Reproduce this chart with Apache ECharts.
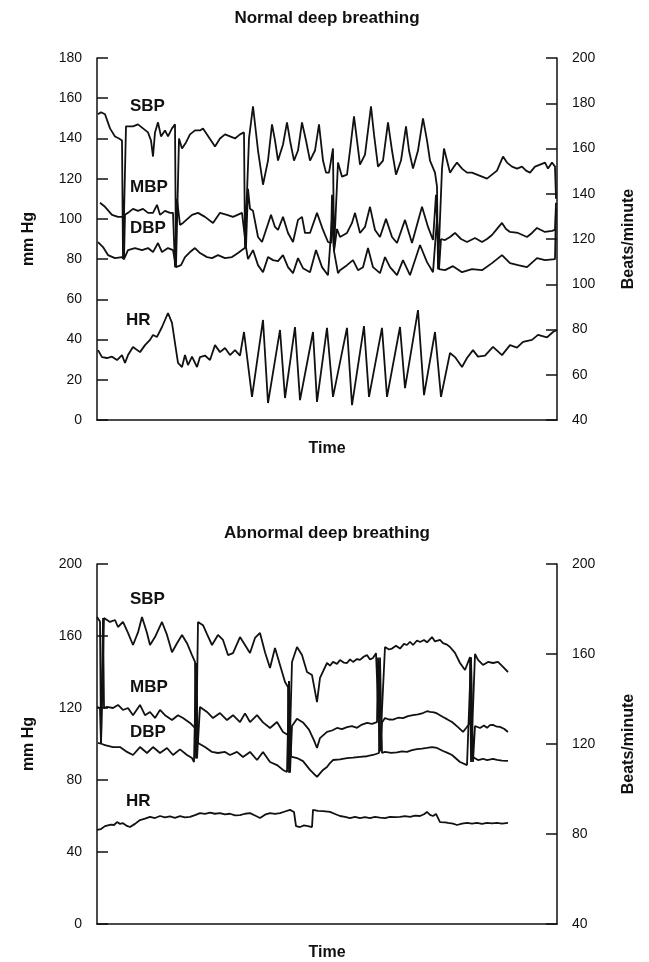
<!DOCTYPE html>
<html><head><meta charset="utf-8">
<script src="https://cdn.jsdelivr.net/npm/echarts@6/dist/echarts.min.js"></script>
<style>html,body{margin:0;padding:0;background:#fff}#c{width:649px;height:962px}</style>
</head><body><div id="c"></div>
<script>
// x = time units (0..460)
const topSBP = [[1,152],[4,153],[8,152],[13,145],[18,141],[22,140],[25,139],[26,80],[28,80],[29,146],[31,146],[36,146],[41,147],[46,145],[51,143],[54,139],[56,131],[58,143],[61,148],[64,141],[68,144],[71,141],[75,145],[78,147],[79,76],[81,76],[82,140],[85,135],[89,138],[93,142],[98,144],[103,144],[106,145],[110,142],[114,139],[118,136],[123,140],[128,142],[133,141],[138,140],[143,142],[147,143],[148,86],[150,86],[152,140],[156,156],[161,134],[166,117],[171,129],[175,147],[178,139],[181,129],[186,137],[190,148],[193,139],[197,129],[201,134],[205,148],[209,139],[213,129],[218,134],[222,147],[226,129],[229,123],[232,123],[236,135],[237,84],[239,84],[240,117],[241,128],[245,121],[250,122],[253,134],[257,151],[260,139],[263,127],[268,132],[274,156],[277,142],[281,126],[286,129],[291,148],[295,134],[299,122],[304,129],[309,146],[312,134],[316,125],[321,134],[326,150],[330,139],[333,129],[338,123],[340,116],[341,75],[343,75],[345,125],[347,135],[350,129],[353,123],[357,126],[360,128],[365,125],[370,123],[375,123],[380,122],[385,121],[390,120],[395,122],[400,124],[406,131],[410,128],[415,126],[420,125],[425,126],[429,124],[433,123],[438,126],[443,127],[448,128],[451,125],[455,128],[458,126],[459,110]];
const topMBP = [[3,108],[8,106],[15,102],[21,101],[26,101],[27,80],[28,102],[31,103],[36,105],[41,104],[46,105],[51,103],[56,103],[60,107],[63,102],[68,104],[73,103],[76,103],[78,76],[80,110],[83,97],[86,98],[95,102],[101,103],[108,101],[116,98],[123,103],[130,102],[136,101],[145,103],[147,103],[149,86],[151,115],[153,105],[156,104],[161,91],[165,88.5],[170,96],[174,102],[178,96],[181,94.5],[186,101],[191,93],[196,88.5],[201,99.5],[205,101],[208,93],[213,93],[220,103],[226,94.5],[231,88.5],[234,88],[235,112],[237,84],[240,95],[243,91],[250,93],[255,98],[258,103],[263,93],[268,96],[273,106],[278,94.5],[283,91],[289,100],[295,91],[300,88],[308,99.5],[315,88],[325,106],[331,96],[336,89.5],[338,89],[339,112],[342,75],[344,90],[348,89.5],[353,91],[358,93],[364,90],[370,88.5],[378,90.5],[385,88.5],[390,90],[395,92],[400,95],[405,98],[409,95],[413,93.5],[421,93],[430,91],[435,93],[440,95.5],[448,93.5],[455,94],[458,94.5],[459,108]];
const topDBP = [[1,88.5],[6,86],[11,82],[18,80.5],[25,81],[27,80],[31,84.5],[38,85.5],[45,84.5],[51,85.5],[56,83.5],[61,88],[65,83.5],[71,85.5],[76,84.5],[79,76],[84,77],[88,81],[93,83.5],[98,85.5],[103,83],[110,81],[115,80.5],[121,82],[128,80.5],[135,81],[141,83],[145,84.5],[147,84.5],[149,86],[151,80],[156,84.5],[161,77],[166,73.5],[171,81],[176,79.5],[181,79],[186,82],[191,76],[196,73],[201,80.5],[206,75.5],[213,73.5],[219,84.5],[225,76],[231,72],[233,72],[235,100],[237,84],[241,73],[243,74.5],[250,77],[256,79.5],[261,74.5],[266,76],[271,85.5],[276,76],[283,73],[288,81],[293,76],[300,72],[306,79.5],[313,72],[323,87],[330,78.5],[336,73.5],[338,73],[340,100],[342,75],[348,74.5],[356,76.5],[365,73.5],[375,75],[385,74.5],[395,78],[405,82],[413,78],[421,77],[430,76],[440,80.5],[448,79.5],[458,80],[459,105]];
const topHR = [[1,70.9],[5,67.8],[10,67.4],[15,68],[20,66.5],[25,68.7],[28,65.2],[31,68.7],[36,72.3],[43,70],[48,73.1],[53,75.4],[56,77.6],[60,76.7],[65,81.1],[68,84.2],[71,87.3],[75,82.9],[78,74],[81,65.2],[85,63.4],[88,68.7],[91,64.3],[95,68],[100,63.4],[103,67.8],[108,68.5],[113,66.5],[118,73.1],[123,70],[128,71.8],[133,68.7],[138,70.9],[143,68.5],[147,78.9],[155,50.2],[166,84.2],[171,47.5],[183,79.8],[188,49.7],[198,81.1],[203,48.8],[216,78.9],[220,48],[230,80.7],[236,50.2],[250,80.7],[255,46.6],[267,81.5],[272,50.2],[285,80.7],[290,50.2],[303,81.1],[308,54.1],[321,88.6],[327,51],[338,78.9],[344,50.2],[353,69.6],[358,67.8],[365,63.4],[370,67.4],[376,70.9],[381,68],[388,68.5],[396,72.3],[405,68.7],[413,73.1],[420,72],[426,74.5],[435,75.4],[441,77.6],[450,76.5],[456,78.9],[460,79.8]];

const botSBP = [[0,170.6],[3,168],[4,100],[6,100],[7,170],[8,170.6],[13,167.8],[18,168.9],[21,165],[26,167.8],[31,161.7],[36,155],[41,162],[45,170.6],[50,161.7],[53,155],[58,159.4],[65,167.8],[70,160.6],[75,151],[80,156],[85,160.6],[90,156],[95,149.4],[98,145.6],[99,92],[100,92],[101,167.8],[106,166],[110,161],[115,155],[121,160.6],[126,157.8],[131,149.4],[136,150.5],[143,159.4],[148,155],[153,150.6],[158,158.9],[163,161.7],[168,151],[173,142.2],[178,153.3],[183,143.9],[188,134.4],[191,131.7],[192,84],[193,84],[195,145.6],[200,153.9],[205,149.4],[210,140],[215,138.3],[220,123.3],[223,136.7],[230,145],[233,143.5],[236,145.6],[240,144.5],[243,146.7],[247,145.2],[250,145],[253,147],[256,145.6],[260,147.2],[263,146.7],[267,148.6],[270,149.4],[273,147],[276,147.8],[279,150.5],[281,149.4],[283,96],[285,96],[288,153.9],[292,152.5],[295,153],[299,154.6],[303,153],[307,155.6],[310,155],[313,156.8],[316,155],[320,157.5],[323,156.7],[327,157.8],[330,156.5],[335,159.4],[338,157],[340,156.5],[343,157.8],[346,156],[350,155.2],[353,153.9],[358,150.6],[363,145],[368,141.1],[373,148.3],[374,90],[376,90],[378,150],[381,146.7],[386,143.9],[391,145.6],[396,145],[401,145.6],[406,142.8],[411,140]];
const botMBP = [[0,120.6],[3,120],[4,100],[6,170],[7,120],[10,120.6],[16,120],[21,121.7],[26,118.9],[31,120],[36,116],[43,121.7],[48,116],[53,117.8],[58,114.5],[63,118.9],[68,116],[75,113.3],[81,116],[86,114.4],[93,111.7],[98,108.9],[99,145],[100,92],[103,120.6],[110,117.8],[116,114.4],[123,117.2],[130,113.3],[136,116],[143,112.2],[148,117],[153,112.2],[160,116],[166,112],[173,108.9],[180,112.2],[186,106.7],[191,105],[192,135],[193,84],[195,110],[200,114],[206,112],[212,108],[217,102],[220,97.8],[223,103.3],[230,106.7],[235,107.5],[240,108.9],[245,108.3],[250,109.4],[255,109.9],[260,109],[265,110.8],[270,111.7],[275,111.2],[280,112.2],[281,148],[283,96],[285,112],[288,114.4],[292,113.6],[296,113.5],[301,114.6],[306,114.4],[311,115.5],[316,116],[321,116.5],[326,117.2],[330,118.2],[333,117.8],[337,117.6],[340,117],[346,115],[350,113.8],[355,112.2],[361,109.4],[366,106.7],[373,111.7],[374,148],[376,90],[378,110],[383,108.9],[387,110.3],[390,109],[393,110.5],[396,110.6],[400,109.6],[403,109.5],[407,108.5],[411,106.7]];
const botDBP = [[1,100.6],[3,100],[5,100],[8,99.4],[16,98.3],[23,98.3],[30,95.6],[36,93.9],[43,98.3],[50,95],[56,98.3],[63,95],[70,97.8],[76,93.9],[83,97],[90,93.9],[95,92.2],[97,90],[99,145],[101,100.6],[108,98.3],[115,95.6],[121,95],[128,95.6],[133,93.9],[140,95.6],[146,92.8],[153,95.6],[160,91.1],[166,95.6],[173,90],[180,88.3],[186,85.6],[190,84.4],[192,135],[194,93],[195,93.9],[200,92.2],[206,90.5],[213,85.6],[220,81.7],[226,85.6],[230,87.2],[233,89.4],[236,91.1],[243,91.5],[250,92.2],[256,92.4],[263,92.8],[270,93.2],[276,93.9],[282,95],[283,148],[285,95],[288,95.6],[294,95.1],[300,95.3],[305,95.9],[310,95.6],[315,96.6],[320,97.2],[325,97.4],[330,97.8],[335,98.3],[340,97.8],[346,96.1],[350,95.2],[355,93.9],[363,90],[370,88.3],[374,148],[375,93],[381,91.1],[386,91.8],[390,91.1],[396,91.8],[400,91.2],[405,90.8],[411,90.6]];
const botHR = [[0,81.8],[4,82.2],[8,83.5],[10,83.1],[14,84.2],[17,84],[20,85.3],[23,84.5],[26,84.8],[30,83.6],[33,83.1],[38,84.5],[43,86.2],[48,86.8],[53,87.6],[58,87.1],[63,88],[68,87.4],[73,87.8],[78,87.2],[83,87.9],[88,87.4],[93,87.6],[98,88.4],[103,89.3],[108,88.9],[113,89.5],[118,89],[123,89.3],[128,88.7],[133,89],[138,88.3],[143,88.4],[148,89],[153,89.3],[158,88.2],[163,87.1],[168,88.6],[173,89.3],[178,88.9],[183,89.3],[188,90],[193,90.7],[197,89.8],[199,83.5],[203,83.1],[207,83.8],[211,83.5],[215,83.1],[216,90.7],[221,90.3],[226,90.2],[233,89.8],[238,88.9],[243,88],[248,87.6],[253,87.1],[258,87.6],[263,87.1],[268,87.5],[273,87.1],[278,87.6],[283,87.3],[288,87.1],[293,87.6],[298,87.5],[303,87.6],[308,87.9],[313,87.6],[318,88.2],[323,88],[327,88.8],[330,89.8],[333,88.5],[336,88],[339,88.9],[341,89.3],[343,85.3],[348,85.2],[351,84.9],[356,84.6],[360,84],[365,84.6],[370,84.9],[375,84.6],[380,84.9],[385,84.5],[390,84.9],[395,84.7],[400,84.9],[405,84.6],[411,84.9]];

const topLeftTicks = {min:0, max:180, interval:20};
const topRightTicks = {min:40, max:200, interval:20};
const botLeftTicks = {min:0, max:200, interval:40};
const botRightTicks = {min:40, max:200, interval:40};
const titles = ['Normal deep breathing','Abnormal deep breathing'];
const seriesNames = ['SBP','MBP','DBP','HR'];

const FONT = '"Liberation Sans", Arial, Helvetica, sans-serif';
const INK = '#111';
const chart = echarts.init(document.getElementById('c'), null, {renderer:'canvas'});

function yAx(gi, t, name, pos){
  return {
    type:'value', gridIndex:gi, position:pos, min:t.min, max:t.max, interval:t.interval,
    name:name, nameLocation:'middle', nameRotate:90, nameGap: pos==='left'?60:64,
    nameTextStyle:{fontFamily:FONT, fontWeight:'bold', fontSize:16, color:INK},
    axisLine:{show:true, lineStyle:{color:INK, width:1.5}},
    axisTick:{show:true, inside:true, length:11, lineStyle:{color:INK, width:1.5}},
    axisLabel:{fontFamily:FONT, fontSize:14, color:INK, margin:15},
    splitLine:{show:false}
  };
}
function xAx(gi, gap){
  return {type:'value', gridIndex:gi, min:0, max:460,
    name:'Time', nameLocation:'middle', nameGap:gap,
    nameTextStyle:{fontFamily:FONT, fontWeight:'bold', fontSize:16, color:INK},
    axisLine:{show:true, onZero:false, lineStyle:{color:INK, width:1.5}},
    axisTick:{show:false}, axisLabel:{show:false}, splitLine:{show:false}};
}
function ser(data, xi, yi){
  return {type:'line', xAxisIndex:xi, yAxisIndex:yi, data:data, showSymbol:false, symbol:'none',
    lineStyle:{color:INK, width:1.8}, silent:true, animation:false};
}
function lbl(text, x, y){
  return {type:'text', left:x, top:y, style:{text:text, font:'bold 17px '+FONT, fill:INK}};
}
function ttl(text, y){
  return {type:'text', x:327, y:y, style:{text:text, font:'bold 17px '+FONT, fill:INK, textAlign:'center', textVerticalAlign:'middle'}};
}

chart.setOption({
  animation:false,
  grid:[{left:97, top:58, width:460, height:362},{left:97, top:564, width:460, height:360}],
  xAxis:[xAx(0,21), xAx(1,21)],
  yAxis:[yAx(0,topLeftTicks,'mm Hg','left'), yAx(0,topRightTicks,'Beats/minute','right'),
         yAx(1,botLeftTicks,'mm Hg','left'), yAx(1,botRightTicks,'Beats/minute','right')],
  series:[ser(topSBP,0,0), ser(topMBP,0,0), ser(topDBP,0,0), ser(topHR,0,1),
          ser(botSBP,1,2), ser(botMBP,1,2), ser(botDBP,1,2), ser(botHR,1,3)],
  graphic:[
    ttl(titles[0], 18), ttl(titles[1], 533),
    lbl(seriesNames[0],130,98), lbl(seriesNames[1],130,179), lbl(seriesNames[2],130,220), lbl(seriesNames[3],126,312),
    lbl(seriesNames[0],130,591), lbl(seriesNames[1],130,679), lbl(seriesNames[2],130,724), lbl(seriesNames[3],126,793)
  ]
});
</script></body></html>
